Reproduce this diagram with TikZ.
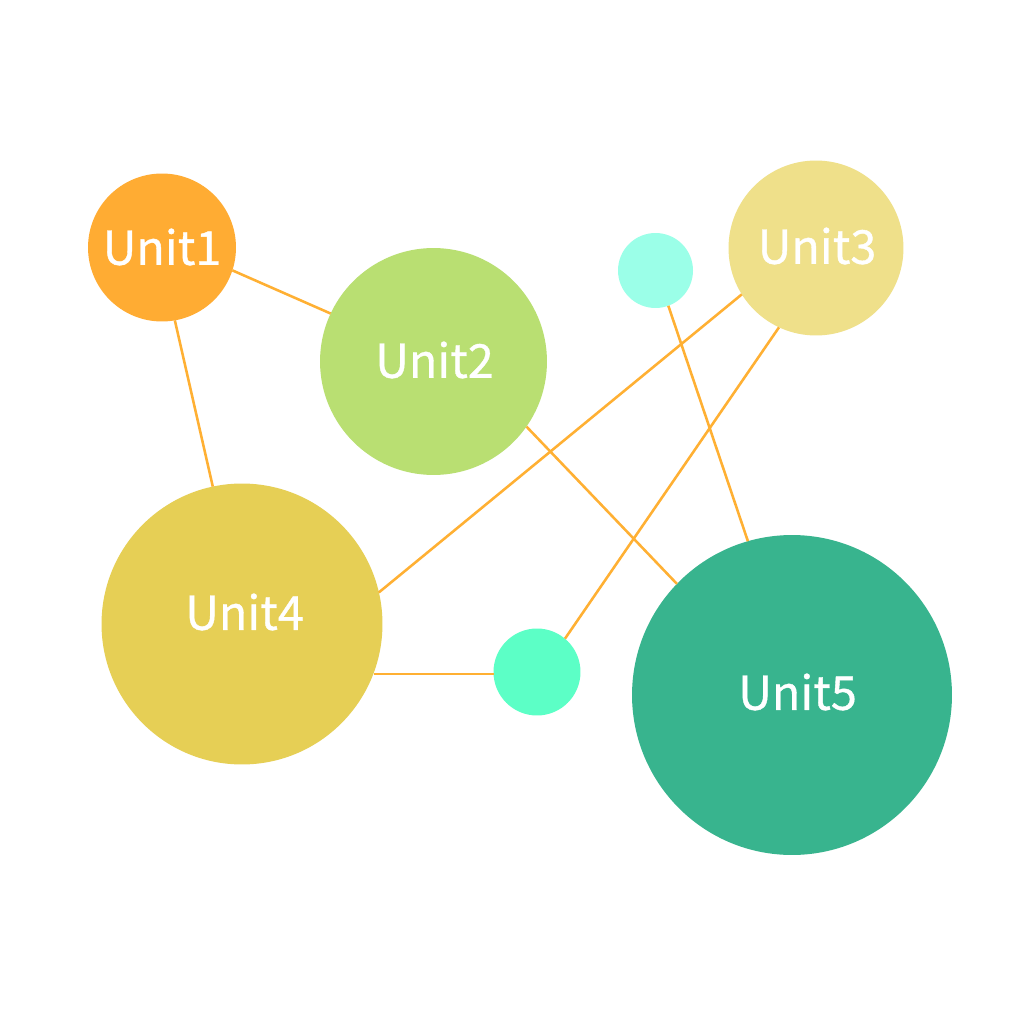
\documentclass[tikz,border=0pt]{standalone}
\usepackage{fontspec}
\setmainfont[FakeBold=0.8]{Noto Sans CJK SC}
\definecolor{cOne}{HTML}{FFAC33}
\definecolor{cTwo}{HTML}{B9DF72}
\definecolor{cThree}{HTML}{EFE08A}
\definecolor{cFour}{HTML}{E6CF55}
\definecolor{cFive}{HTML}{38B48E}
\definecolor{cDotA}{HTML}{9BFFE8}
\definecolor{cDotB}{HTML}{5CFFC6}
\definecolor{cLine}{HTML}{FFB033}
\tikzset{
  blob/.style={circle,inner sep=0pt,outer sep=0pt},
  unitlabel/.style={text=white,font=\fontsize{26.6}{27}\selectfont,inner sep=0pt},
  link/.style={draw=cLine,line width=1.45pt}
}
\begin{document}
\begin{tikzpicture}[x=0.02cm,y=-0.02cm]
\useasboundingbox[fill=white] (0,0) rectangle (1024,1024);
\node[blob,fill=cOne,minimum size=2.96cm] (u1) at (162,247.5) {};
\node[blob,fill=cTwo,minimum size=4.54cm] (u2) at (433.5,361.5) {};
\node[blob,fill=cThree,minimum size=3.50cm] (u3) at (816,248) {};
\node[blob,fill=cFour,minimum size=5.62cm] (u4) at (242,624) {};
\node[blob,fill=cFive,minimum size=6.40cm] (u5) at (792,695) {};
\node[blob,fill=cDotA,minimum size=1.50cm] (da) at (655.5,270.5) {};
\node[blob,fill=cDotB,minimum size=1.74cm] (db) at (537,672) {};
\path[link] (u1.-18) -- (u2.155.5);
\path[link] (u1.-80) -- (u4.102.4);
\path[link] (u2.-35.4) -- (u5.136.8);
\path[link] (u3.212.4) -- (u4.13.1);
\path[link] (u3.245.8) -- (db.50.9);
\path[link] (da.-70) -- (u5.106.1);
\path[link] ([yshift=-0.04cm]u4.-20.85) -- ([yshift=-0.04cm]u4.-20.85 -| db.west);
\node[unitlabel] (t1) at (162,247) {Unit1};
\node[unitlabel] (t2) at (434.5,360) {Unit2};
\node[unitlabel] (t3) at (817,246) {Unit3};
\node[unitlabel] (t4) at (244.5,612) {Unit4};
\node[unitlabel] (t5) at (797.5,692) {Unit5};
\end{tikzpicture}
\end{document}
